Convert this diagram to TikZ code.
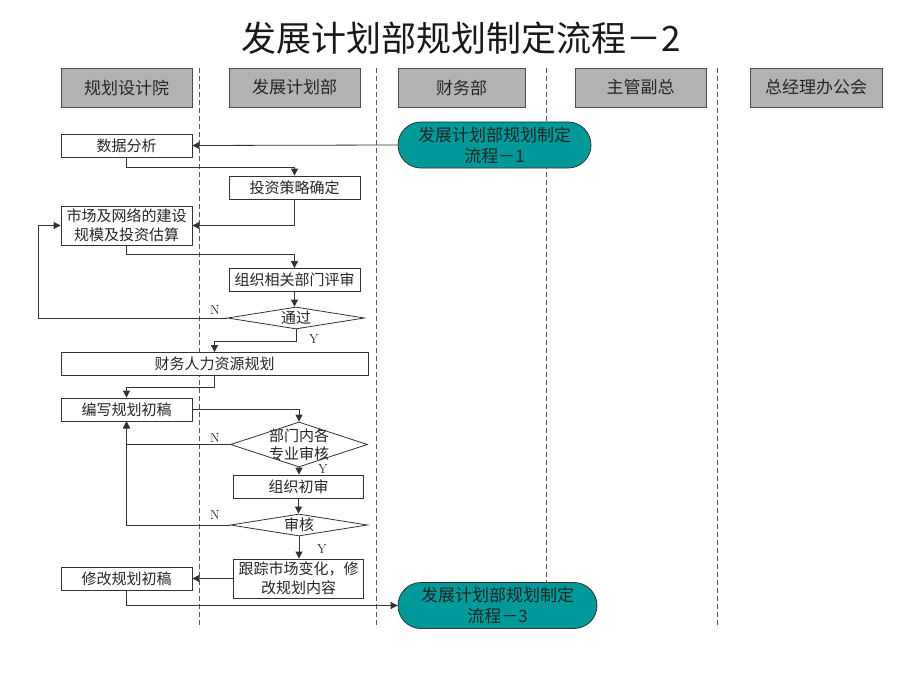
\documentclass[tikz,border=0pt]{standalone}
\usepackage{fontspec}
\newfontfamily\cjk{Noto Sans CJK SC}
\usetikzlibrary{shapes.geometric,shapes.misc,arrows.meta}
\definecolor{hdrgray}{RGB}{178,178,178}
\definecolor{teal2}{RGB}{0,153,153}
\definecolor{linegray}{RGB}{50,50,50}
\begin{document}
\begin{tikzpicture}[x=1pt,y=-1pt,
  hdr/.style={draw=black!70,fill=hdrgray,line width=0.9pt,minimum width=131,minimum height=39,inner sep=0pt,font=\cjk\fontsize{17}{20}\selectfont,text=black!85},
  box/.style={draw=linegray,fill=white,line width=0.8pt,minimum width=131,minimum height=23,inner sep=0pt,font=\cjk\fontsize{15}{19}\selectfont,text=black!85,align=center},
  diam/.style={draw=linegray,fill=white,line width=0.8pt,diamond,inner sep=0pt},
  dlab/.style={text=black!85,align=center,font=\cjk\fontsize{15}{18}\selectfont},
  term/.style={draw=black!80,fill=teal2,line width=0.8pt,rounded rectangle,minimum height=46,inner sep=0pt,font=\cjk\fontsize{17}{21}\selectfont,text=black!85,align=center},
  lane/.style={draw=black!65,dashed,dash pattern=on 5pt off 3pt,line width=0.8pt},
  conn/.style={draw=linegray,line width=0.8pt},
  arr/.style={conn,-{Triangle[length=7pt,width=7pt]}},
  yn/.style={font=\fontsize{13}{15}\selectfont,text=black!85,inner sep=0pt}]
\useasboundingbox (0,0) rectangle (920,690);
% title
\node[font=\cjk\fontsize{35}{42}\selectfont,text=black!90] (title) at (461,38) {发展计划部规划制定流程－2};
% lanes
\coordinate (l1t) at (199,68); \coordinate (l1b) at (199,628);
\coordinate (l2t) at (376,68); \coordinate (l2b) at (376,628);
\coordinate (l3t) at (546,68); \coordinate (l3b) at (546,628);
\coordinate (l4t) at (717,68); \coordinate (l4b) at (717,628);
\draw[lane] (l1t) -- (l1b);
\draw[lane] (l2t) -- (l2b);
\draw[lane] (l3t) -- (l3b);
\draw[lane] (l4t) -- (l4b);
% headers
\node[hdr] (h1) at (126.5,87.5) {规划设计院};
\node[hdr] (h2) at (294.5,87.5) {发展计划部};
\node[hdr,minimum width=127] (h3) at (461.5,87.5) {财务部};
\node[hdr] (h4) at (640.5,87.5) {主管副总};
\node[hdr,minimum width=132] (h5) at (816,87.5) {总经理办公会};
% terminals
\node[term,minimum width=193] (o1) at (494.5,145) {发展计划部规划制定\\流程－1};
\node[term,minimum width=199] (o3) at (497.5,605.5) {发展计划部规划制定\\流程－3};
% boxes
\node[box] (sjfx) at (126.5,145.5) {数据分析};
\node[box] (tz) at (294.5,187.5) {投资策略确定};
\node[box,minimum height=39] (sc) at (126.5,225.5) {市场及网络的建设\\规模及投资估算};
\node[box] (pj) at (294.5,280) {组织相关部门评审};
\node[diam,minimum width=137,minimum height=22,label={[dlab]center:通过}] (d1) at (296,318) {};
\node[box,minimum width=307] (cw) at (214.5,364) {财务人力资源规划};
\node[box] (bx) at (126.5,409.5) {编写规划初稿};
\node[diam,minimum width=137,minimum height=45,label={[dlab]center:部门内各\\专业审核}] (d2) at (299,444.5) {};
\node[box,minimum width=130] (cs) at (298.5,486.5) {组织初审};
\node[diam,minimum width=137,minimum height=22,label={[dlab]center:审核}] (d3) at (299,525) {};
\node[box,minimum width=130,minimum height=39] (gz) at (298.5,578.5) {跟踪市场变化，修\\改规划内容};
\node[box] (xg) at (126.5,578.5) {修改规划初稿};
% Y/N labels
\node[yn] (n1) at (215,310) {N};
\node[yn] (y1) at (314,339) {Y};
\node[yn] (n2) at (215,438) {N};
\node[yn] (y2) at (323,469) {Y};
\node[yn] (n3) at (215,515) {N};
\node[yn] (y3) at (322,549) {Y};
% connectors
\coordinate (lp1) at (38,225.5);
\draw[arr] (o1.west) -- (sjfx.east);
\draw[arr] (sjfx.south) -- ++(0,10) -| (tz.north);
\draw[arr] (tz.south) |- (sc.east);
\draw[arr] (sc.south) -- ++(0,9) -| (pj.north);
\draw[arr] (pj.south) -- (pj.south |- d1.north);
\draw[arr] (d1.west) -| (lp1) -- (sc.west);
\draw[arr] (d1.south) -- ++(0,12) -| (cw.north);
\draw[arr] (cw.south) -- ++(0,11) -| (bx.north);
\draw[arr] (bx.east) -| (d2.north);
\draw[arr] (d2.west) -| (bx.south);
\draw[arr] (d3.west) -| (bx.south);
\draw[arr] (d2.south) -- (d2.south |- cs.north);
\draw[arr] (cs.south) -- (cs.south |- d3.north);
\draw[arr] (d3.south) -- (d3.south |- gz.north);
\draw[arr] (gz.west) -- (xg.east);
\draw[arr] (xg.south) |- (o3.west);
\end{tikzpicture}
\end{document}
